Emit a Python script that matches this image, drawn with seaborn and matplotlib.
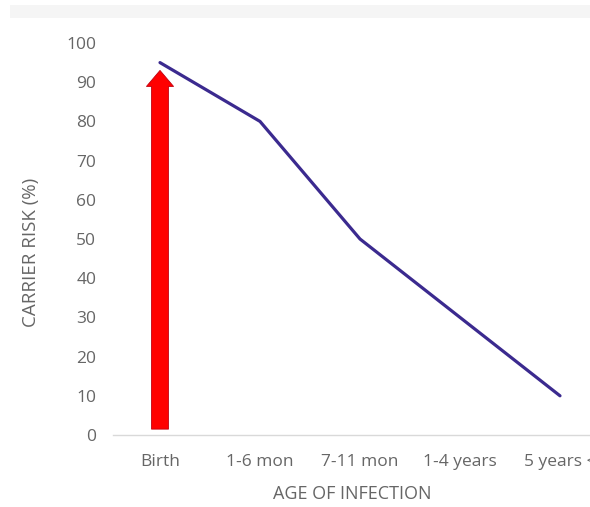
import matplotlib
matplotlib.use("Agg")
import matplotlib.pyplot as plt
import seaborn as sns
import pandas as pd
from matplotlib.patches import Rectangle

# ---- data ----
age_groups = ["Birth", "1-6 mon", "7-11 mon", "1-4 years", "5 years <"]
carrier_risk = [95, 80, 50, 30, 10]
y_ticks = [0, 10, 20, 30, 40, 50, 60, 70, 80, 90, 100]
arrow_category = 0          # index of "Birth"
arrow_from = 1.5
arrow_to = 93

df = pd.DataFrame({"age": age_groups, "risk": carrier_risk})

sns.set_theme(style="white")
plt.rcParams['font.family'] = ['Open Sans', 'DejaVu Sans']

W, H = 590, 507
fig = plt.figure(figsize=(W / 100, H / 100), dpi=100)
fig.patch.set_facecolor("white")
# faint header band
fig.patches.append(Rectangle((10 / W, (H - 18) / H), 1, 13 / H, transform=fig.transFigure,
                             facecolor="#f5f5f5", edgecolor="none", zorder=0))

ax = fig.add_axes([113 / W, 72 / H, 477 / W, 392 / H])
sns.lineplot(data=df, x="age", y="risk", sort=False, color="#3b2a8f", linewidth=2.3, ax=ax)

ax.annotate("", xy=(arrow_category, arrow_to), xytext=(arrow_category, arrow_from),
            arrowprops=dict(width=12.2, headwidth=19.5, headlength=11.5, shrink=0,
                            facecolor="#ff0000", edgecolor="#c00010", linewidth=0.6),
            zorder=3)

ax.set_xlim(-0.47, 4.3)
ax.set_ylim(0, 100)
ax.set_yticks(y_ticks)
ax.set_xticks(range(len(age_groups)))
ax.set_xticklabels(age_groups)

for s in ["top", "right", "left"]:
    ax.spines[s].set_visible(False)
ax.spines["bottom"].set_color("#d9d9d9")
ax.spines["bottom"].set_linewidth(1.0)
tick_col = "#666666"
ax.tick_params(axis="x", length=0, pad=14, labelsize=12.5, labelcolor=tick_col)
ax.tick_params(axis="y", length=0, pad=12, labelsize=12.5, labelcolor=tick_col)

ax.set_xlabel("AGE OF INFECTION", fontsize=13, color=tick_col)
ax.set_ylabel("CARRIER RISK (%)", fontsize=13.5, color=tick_col)
ax.xaxis.label.set_va("center")
ax.xaxis.set_label_coords((352 - 113) / 477, -(494 - 435) / 392)
ax.yaxis.set_label_coords(-(113 - 40) / 477, (435 - 252) / 392)

fig.savefig("out.png", dpi=100)
